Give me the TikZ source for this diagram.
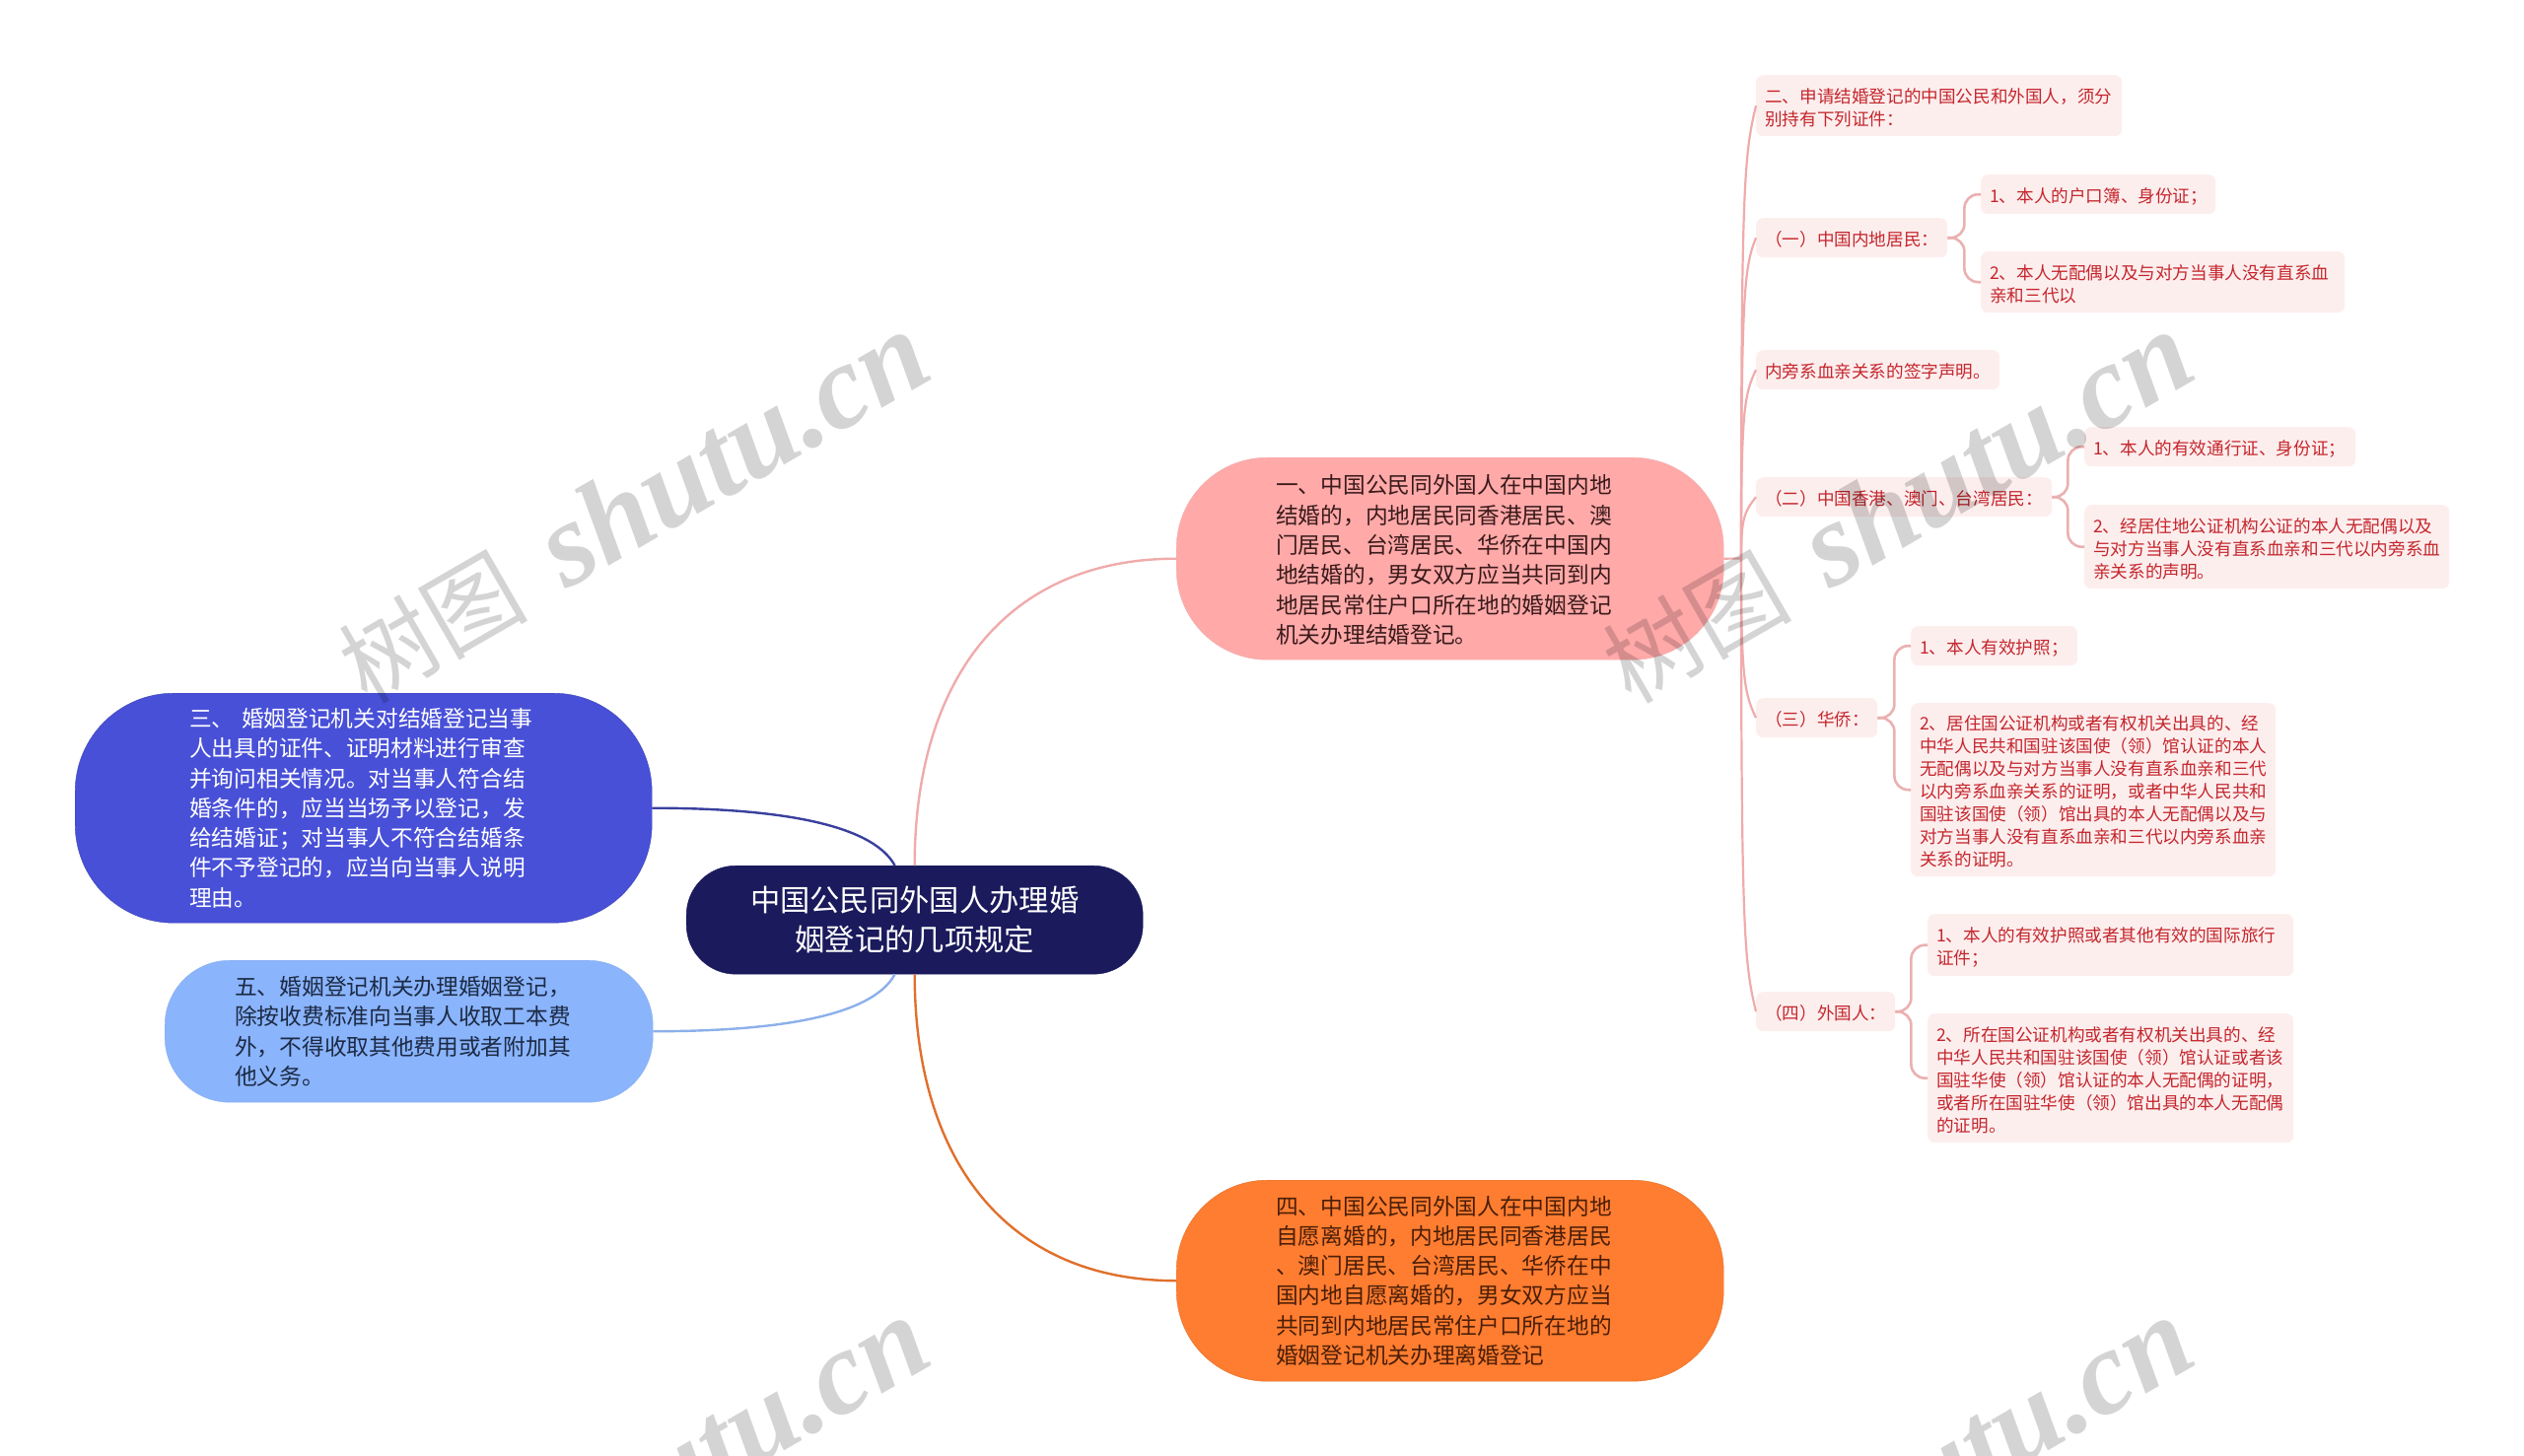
\documentclass[tikz,border=0pt]{standalone}
\usepackage{fontspec}
\usepackage{xcolor}
\setmainfont{Noto Sans CJK SC}
\newfontfamily\wmlatin{Liberation Serif}
\usetikzlibrary{arrows.meta}

\definecolor{rootfill}{HTML}{1A1A5C}
\definecolor{threefill}{HTML}{4850D8}
\definecolor{fivefill}{HTML}{8AB4FB}
\definecolor{onefill}{HTML}{FFA9A9}
\definecolor{fourfill}{HTML}{FF7D30}
\definecolor{leaffill}{HTML}{FDEEEE}
\definecolor{leaftext}{HTML}{C4262C}
\definecolor{onetext}{HTML}{3A1A1A}
\definecolor{fourtext}{HTML}{4A1E08}
\definecolor{fivetext}{HTML}{1C2A44}
\definecolor{oneline}{HTML}{F0ABAB}
\definecolor{twigline}{HTML}{EBB0B0}
\definecolor{fourline}{HTML}{E0702C}
\definecolor{threeline}{HTML}{3A409E}
\definecolor{fiveline}{HTML}{8CB0EA}

\newcommand{\wmtext}{\fontsize{96}{96}\selectfont 树图\hspace{42pt}{\wmlatin\bfseries\itshape\fontsize{121}{121}\selectfont shutu.cn}}

\tikzset{
	bigbox/.style={anchor=north west, inner ysep=0pt, align=left, text width=353pt, font=\fontsize{22.7}{30.3}\selectfont},
	leaf/.style={anchor=north west, fill=leaffill, text=leaftext, rounded corners=7pt, inner xsep=9pt, inner ysep=0pt, align=left, text width=#1, font=\fontsize{17.6}{23}\selectfont, execute at begin node={\rule{0pt}{19pt}}},
	mainline/.style={line width=2.4pt},
	spineline/.style={draw=oneline, line width=2.2pt},
	twig/.style={draw=twigline, line width=2.6pt, rounded corners=14pt},
	wmark/.style={anchor=base west, rotate=30, inner sep=0pt, text=black, text opacity=0.17}
}

\begin{document}
\begin{tikzpicture}[x=1pt,y=-1pt]
	\useasboundingbox (0,0) rectangle (2560,1477);

	% centre and the four big bubbles
	\node[anchor=north west, fill=rootfill, draw=rootfill, rounded corners=50pt, minimum width=463pt, minimum height=110pt, text width=400pt, inner sep=0pt, align=center, text=white, font=\fontsize{30.3}{40}\selectfont] (root) at (696,878) {中国公民同外国人办理婚\\姻登记的几项规定};
	\node[bigbox, fill=onefill, draw=oneline, text=onetext, rounded corners=92pt, inner xsep=101pt, minimum height=205pt, execute at begin node={\rule{0pt}{22pt}}] (one) at (1193,464) {一、中国公民同外国人在中国内地\\结婚的，内地居民同香港居民、澳\\门居民、台湾居民、华侨在中国内\\地结婚的，男女双方应当共同到内\\地居民常住户口所在地的婚姻登记\\机关办理结婚登记。};
	\node[bigbox, fill=fourfill, draw=fourline, text=fourtext, rounded corners=92pt, inner xsep=101pt, minimum height=204pt] (four) at (1193,1197) {四、中国公民同外国人在中国内地\\自愿离婚的，内地居民同香港居民\\、澳门居民、台湾居民、华侨在中\\国内地自愿离婚的，男女双方应当\\共同到内地居民常住户口所在地的\\婚姻登记机关办理离婚登记};
	\node[bigbox, fill=threefill, draw=threeline!70!threefill, text=white, rounded corners=100pt, inner xsep=116pt, minimum height=233pt] (three) at (76,703) {三、 婚姻登记机关对结婚登记当事\\人出具的证件、证明材料进行审查\\并询问相关情况。对当事人符合结\\婚条件的，应当当场予以登记，发\\给结婚证；对当事人不符合结婚条\\件不予登记的，应当向当事人说明\\理由。};
	\node[bigbox, fill=fivefill, draw=fiveline, text=fivetext, rounded corners=66pt, inner xsep=71pt, minimum height=144pt] (five) at (167,974) {五、婚姻登记机关办理婚姻登记，\\除按收费标准向当事人收取工本费\\外，不得收取其他费用或者附加其\\他义务。};

	% right side, first row of notes
	\node[leaf=353pt, minimum height=62pt] (lfa) at (1781,76) {二、申请结婚登记的中国公民和外国人，须分\\别持有下列证件：};
	\node[leaf=176pt, minimum height=40pt] (lfb) at (1781,221) {（一）中国内地居民：};
	\node[leaf=229pt, minimum height=40pt] (lfc) at (1781,355) {内旁系血亲关系的签字声明。};
	\node[leaf=282pt, minimum height=40pt] (lfd) at (1781,484) {（二）中国香港、澳门、台湾居民：};
	\node[leaf=105pt, minimum height=40pt] (lfe) at (1781,708) {（三）华侨：};
	\node[leaf=123pt, minimum height=40pt] (lff) at (1781,1006) {（四）外国人：};

	% second row of notes
	\node[leaf=220pt, minimum height=40pt] (lfba) at (2009,177) {1、本人的户口簿、身份证；};
	\node[leaf=351pt, minimum height=62pt] (lfbb) at (2009,255) {2、本人无配偶以及与对方当事人没有直系血\\亲和三代以};
	\node[leaf=257pt, minimum height=40pt] (lfda) at (2114,433) {1、本人的有效通行证、身份证；};
	\node[leaf=352pt, minimum height=85pt] (lfdb) at (2114,512) {2、经居住地公证机构公证的本人无配偶以及\\与对方当事人没有直系血亲和三代以内旁系血\\亲关系的声明。};
	\node[leaf=151pt, minimum height=40pt] (lfea) at (1938,635) {1、本人有效护照；};
	\node[leaf=352pt, minimum height=176pt] (lfeb) at (1938,713) {2、居住国公证机构或者有权机关出具的、经\\中华人民共和国驻该国使（领）馆认证的本人\\无配偶以及与对方当事人没有直系血亲和三代\\以内旁系血亲关系的证明，或者中华人民共和\\国驻该国使（领）馆出具的本人无配偶以及与\\对方当事人没有直系血亲和三代以内旁系血亲\\关系的证明。};
	\node[leaf=353pt, minimum height=63pt] (lffa) at (1955,927) {1、本人的有效护照或者其他有效的国际旅行\\证件；};
	\node[leaf=353pt, minimum height=131pt] (lffb) at (1955,1028) {2、所在国公证机构或者有权机关出具的、经\\中华人民共和国驻该国使（领）馆认证或者该\\国驻华使（领）馆认证的本人无配偶的证明，\\或者所在国驻华使（领）馆出具的本人无配偶\\的证明。};

	% centre to bubbles
	\draw[mainline, draw=oneline] (root.north) .. controls +(0,-188) and +(-173,0) .. (one.west);
	\draw[mainline, draw=fourline] (root.south) .. controls +(0,187) and +(-173,0) .. (four.west);
	\draw[mainline, draw=threeline] (root.110) .. controls +(-24,-44) and +(120,0) .. (three.east);
	\draw[mainline, draw=fiveline] (root.250) .. controls +(-24,44) and +(120,0) .. (five.east);

	% long curves out of the first bubble
	\coordinate (spine) at (1766,566.5);
	\draw[spineline] (one.east) -- (spine);
	\draw[spineline] (spine) .. controls +(0,-380) and +(-12,50) .. (lfa.west);
	\draw[spineline] (spine) .. controls +(0,-270) and +(-12,30) .. (lfb.west);
	\draw[spineline] (spine) .. controls +(0,-150) and +(-12,25) .. (lfc.west);
	\draw[spineline] (spine) .. controls +(0,-40) and +(-12,15) .. (lfd.west);
	\draw[spineline] (spine) .. controls +(0,120) and +(-12,-25) .. (lfe.west);
	\draw[spineline] (spine) .. controls +(0,380) and +(-12,-50) .. (lff.west);

	% brackets
	\draw[twig] (lfb.east) -- ++(17,0) |- (lfba.west);
	\draw[twig] (lfb.east) -- ++(17,0) |- (lfbb.west);
	\draw[twig] (lfd.east) -- ++(16,0) |- (lfda.west);
	\draw[twig] (lfd.east) -- ++(16,0) |- (lfdb.west);
	\draw[twig] (lfe.east) -- ++(17,0) |- (lfea.west);
	\draw[twig] (lfe.east) -- ++(17,0) |- (lfeb.west);
	\draw[twig] (lff.east) -- ++(16,0) |- (lffa.west);
	\draw[twig] (lff.east) -- ++(16,0) |- (lffb.west);

	% watermarks
	\node[wmark] (wma) at (372,716) {\wmtext};
	\node[wmark] (wmb) at (1654,716) {\wmtext};
	\node[wmark] (wmc) at (372,1716) {\wmtext};
	\node[wmark] (wmd) at (1654,1716) {\wmtext};
\end{tikzpicture}
\end{document}
